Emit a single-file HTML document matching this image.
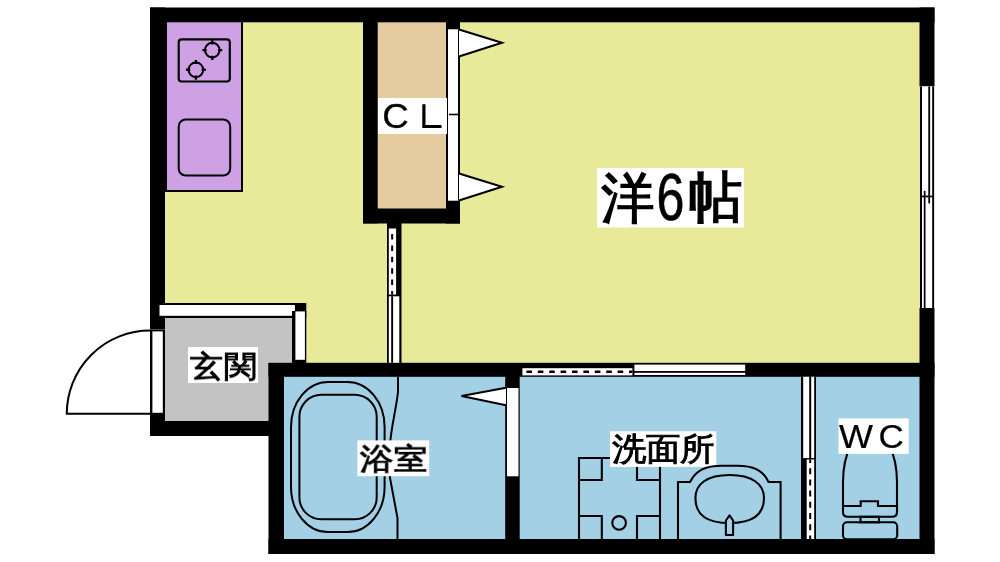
<!DOCTYPE html>
<html lang="ja">
<head>
<meta charset="utf-8">
<style>
html,body{margin:0;padding:0;background:#fff;width:1000px;height:562px;overflow:hidden}
svg{display:block;will-change:transform}
text{font-family:"Liberation Sans",sans-serif}
</style>
</head>
<body>
<svg width="1000" height="562" viewBox="0 0 1000 562">
<!-- room fills -->
<rect x="165" y="22" width="755" height="341" fill="#E8EA99"/>
<rect x="165" y="22" width="78" height="170" fill="#CEA1E5"/>
<rect x="377" y="22" width="70" height="187" fill="#E4CBA0"/>
<rect x="165" y="317" width="128" height="46" fill="#C3C3C3"/>
<rect x="165" y="317" width="104" height="105" fill="#C3C3C3"/>
<rect x="283" y="376" width="637" height="163" fill="#A3D0E5"/>

<!-- kitchen border -->
<path d="M166 22 V191 H242 V22" fill="none" stroke="#000" stroke-width="2"/>

<!-- outer walls -->
<rect x="150" y="7.5" width="784.5" height="14.8" fill="#000"/>
<rect x="150" y="7.5" width="15" height="322" fill="#000"/>
<rect x="150" y="413" width="15" height="23" fill="#000"/>
<rect x="150" y="421" width="134" height="15" fill="#000"/>
<rect x="919.5" y="7.5" width="15" height="79" fill="#000"/>
<rect x="919.5" y="308" width="15" height="246" fill="#000"/>
<rect x="268.5" y="363" width="15.5" height="191" fill="#000"/>
<rect x="268.5" y="539" width="666" height="15" fill="#000"/>
<rect x="268.5" y="362.8" width="666" height="14" fill="#000"/>
<rect x="505.2" y="363" width="14.5" height="191" fill="#000"/>

<!-- CL walls -->
<rect x="363" y="22" width="14.7" height="201.4" fill="#000"/>
<rect x="363" y="208.5" width="97" height="15" fill="#000"/>
<rect x="446" y="22" width="14" height="7.5" fill="#000"/>
<rect x="446" y="200.5" width="14" height="23" fill="#000"/>
<rect x="448" y="29.5" width="10" height="171" fill="#fff"/>
<rect x="446" y="22" width="2" height="187" fill="#000"/>
<rect x="458" y="29.5" width="2" height="171" fill="#000"/>
<rect x="378" y="98" width="69" height="36" fill="#fff"/>
<line x1="449" y1="114.5" x2="460" y2="114.5" stroke="#000" stroke-width="1.6"/>
<path d="M459 29.5 L502 42.7 L459 56.5" fill="#fff" stroke="#000" stroke-width="2" stroke-linejoin="miter"/>
<path d="M459 173.5 L502 186.8 L459 200.5" fill="#fff" stroke="#000" stroke-width="2" stroke-linejoin="miter"/>
<text transform="translate(382.2 128.2) scale(1.08 1.03)" font-size="34" fill="#000" stroke="#000" stroke-width="0.25">C</text>
<path d="M422.3 104.3 H425.5 V124.9 H441.5 V127.9 H422.3 Z" fill="#000"/>

<!-- sliding partition below CL -->
<rect x="387" y="223" width="14.5" height="140" fill="#000"/>
<rect x="388.8" y="228.5" width="7.3" height="66" fill="#fff"/>
<rect x="388.8" y="296.3" width="10.5" height="66.5" fill="#fff"/>
<rect x="391.2" y="296.3" width="1.9" height="66.5" fill="#000"/>
<line x1="392.15" y1="228.5" x2="392.15" y2="294.5" stroke="#000" stroke-width="2" stroke-dasharray="5.5 5.9" stroke-dashoffset="-5.5"/>

<!-- right window -->
<rect x="920" y="86.4" width="14" height="221.6" fill="#fff"/>
<rect x="920" y="86.4" width="2" height="221.6" fill="#000"/>
<rect x="932.2" y="86.4" width="1.9" height="221.6" fill="#000"/>
<rect x="928.3" y="86.4" width="1.8" height="117" fill="#000"/>
<rect x="923.8" y="190.9" width="1.7" height="117.1" fill="#000"/>
<rect x="920" y="195.6" width="14" height="1.7" fill="#000"/>

<!-- entrance step -->
<rect x="157.8" y="303" width="148.5" height="15" fill="#000"/>
<rect x="159.5" y="305" width="135.4" height="10.8" fill="#fff"/>
<rect x="292" y="311" width="14.3" height="52" fill="#000"/>
<rect x="295.4" y="311.4" width="9.5" height="48.4" fill="#fff"/>
<!-- entrance door -->
<rect x="150" y="329.6" width="15" height="84.4" fill="#000"/>
<rect x="152.4" y="331.4" width="10.4" height="81.4" fill="#fff"/>
<path d="M150 330.6 A83.2 83.2 0 0 0 66.8 413.8 H150" fill="none" stroke="#000" stroke-width="2"/>
<rect x="188" y="347" width="70" height="36" fill="#fff"/>
<text transform="translate(190.00 376.67) scale(1.004 0.910)" font-size="33" fill="#000" stroke="#000" stroke-width="1">玄関</text>

<!-- bath -->
<rect x="507" y="388" width="11.5" height="88.3" fill="#fff"/>
<path d="M506 387.7 L461.5 396 L506 405.3" fill="#fff" stroke="#000" stroke-width="2"/>
<rect x="291" y="382" width="93.6" height="150" rx="37" ry="45" fill="none" stroke="#000" stroke-width="2"/>
<rect x="299.4" y="394.8" width="77.3" height="124.5" rx="22" ry="22" fill="none" stroke="#000" stroke-width="2"/>
<path d="M398 377 V392 C396 410 391 428 390 445 C389.2 460 389.5 470 390 478 L397.5 518 V539" fill="none" stroke="#000" stroke-width="2"/>
<rect x="357.4" y="440.4" width="71.8" height="35.8" fill="#fff"/>
<text transform="translate(359.80 469.06) scale(1.019 0.907)" font-size="33" fill="#000" stroke="#000" stroke-width="1">浴室</text>

<!-- wash room top window -->
<rect x="522.4" y="368.2" width="110" height="7.2" fill="#fff"/>
<line x1="522.4" y1="371.8" x2="632.4" y2="371.8" stroke="#000" stroke-width="2.4" stroke-dasharray="5.6 5.8" stroke-dashoffset="-4"/>
<rect x="634.4" y="364.6" width="110.8" height="6.4" fill="#fff"/>
<rect x="634.4" y="372.8" width="110.8" height="2.2" fill="#fff"/>

<!-- wash|WC partition -->
<rect x="801" y="376.8" width="15" height="162.2" fill="#000"/>
<rect x="803.2" y="376.8" width="6" height="81.3" fill="#fff"/>
<rect x="811.2" y="376.8" width="3" height="81.3" fill="#fff"/>
<rect x="806.7" y="459.5" width="7.5" height="79.5" fill="#fff"/>
<line x1="810.2" y1="459.5" x2="810.2" y2="539" stroke="#000" stroke-width="2" stroke-dasharray="6 5.2" stroke-dashoffset="2.5"/>

<!-- washing machine pan -->
<path d="M579 539 V458 H660 V539" fill="none" stroke="#000" stroke-width="2.1"/>
<path d="M579 480 H601.8 V458" fill="none" stroke="#000" stroke-width="2.1"/>
<path d="M660 480 H637 V458" fill="none" stroke="#000" stroke-width="2.1"/>
<path d="M579 516 H601.8 V539" fill="none" stroke="#000" stroke-width="2.1"/>
<path d="M660 516 H637 V539" fill="none" stroke="#000" stroke-width="2.1"/>
<circle cx="619.1" cy="522.9" r="6.8" fill="none" stroke="#000" stroke-width="2.1"/>
<rect x="610" y="431.3" width="106.3" height="35.6" fill="#fff"/>
<text transform="translate(611.70 460.25) scale(1.015 0.941)" font-size="34" fill="#000" stroke="#000" stroke-width="1">洗面所</text>

<!-- sink -->
<path d="M678 539 V482 H690 C696 470 706 465.8 722 465.8 H737 C753 465.8 763 470 768.6 482 H780.6 V539" fill="none" stroke="#000" stroke-width="2.1"/>
<path d="M729.7 475 C752 475 764 484 764 498 C764 517 750 523 729.7 523 C709 523 695.4 517 695.4 498 C695.4 484 707 475 729.7 475 Z" fill="none" stroke="#000" stroke-width="2.1"/>
<path d="M725.9 535 V520.5 L729.5 515.3 L733.1 520.5 V535 Z" fill="#A3D0E5" stroke="#000" stroke-width="2.1" stroke-linejoin="round"/>

<!-- WC -->
<path d="M843 506 V482 A27 52 0 0 1 897 482 V506" fill="none" stroke="#000" stroke-width="2.1"/>
<path d="M843 506 H860.7 V501.2 H878 V506 H897 V512 Q897 516.8 892 516.8 H848 Q843 516.8 843 512 Z" fill="none" stroke="#000" stroke-width="2.1"/>
<rect x="860.5" y="516.8" width="18.5" height="5.5" fill="none" stroke="#000" stroke-width="2.1"/>
<rect x="843" y="522.3" width="54.2" height="17" rx="4" fill="none" stroke="#000" stroke-width="2.1"/>
<rect x="838.5" y="418.4" width="70.2" height="35.5" fill="#fff"/>
<text transform="translate(839 448.4) scale(1.06 1)" font-size="34" fill="#000" stroke="#000" stroke-width="0.2">W</text>
<text transform="translate(878.5 448.4) scale(1.03 1)" font-size="34" fill="#000" stroke="#000" stroke-width="0.2">C</text>

<!-- stove -->
<rect x="178.7" y="39.3" width="51.1" height="42.2" rx="3" fill="none" stroke="#000" stroke-width="2.2"/>
<g fill="none" stroke="#000">
<circle cx="212.3" cy="50.1" r="7.3" stroke-width="2"/>
<path d="M212.3 40.2 V44.4 M212.3 55.8 V60.0 M202.4 50.1 H206.6 M218.0 50.1 H222.2" stroke-width="2.4"/>
<circle cx="195.9" cy="69.8" r="7.3" stroke-width="2"/>
<path d="M195.9 59.9 V64.1 M195.9 75.5 V79.7 M186.0 69.8 H190.2 M201.6 69.8 H205.8" stroke-width="2.4"/>
</g>
<rect x="178.7" y="119.5" width="51.5" height="56" rx="7" fill="none" stroke="#000" stroke-width="2"/>

<!-- main room label -->
<rect x="597" y="168" width="147" height="59.5" fill="#fff"/>
<text transform="translate(601.19 217.17) scale(0.950 0.976)" font-size="56" fill="#000" stroke="#000" stroke-width="1.4">洋</text>
<text transform="translate(656.5 219.8) scale(0.76 1)" font-size="66" fill="#000" stroke="#000" stroke-width="0.7">6</text>
<text transform="translate(687.87 216.20) scale(0.963 0.975)" font-size="56" fill="#000" stroke="#000" stroke-width="1.4">帖</text>
</svg>
</body>
</html>
